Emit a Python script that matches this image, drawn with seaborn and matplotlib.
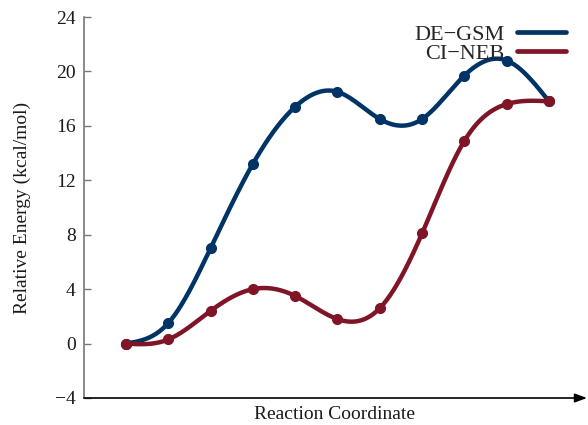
import numpy as np
import pandas as pd
import matplotlib
matplotlib.use("Agg")
import matplotlib.pyplot as plt
import seaborn as sns

# Image index along the reaction path
images = list(range(11))
de_gsm = [0.0, 1.5, 7.0, 13.2, 17.4, 18.5, 16.5, 16.5, 19.7, 20.8, 17.8]
ci_neb = [0.0, 0.3, 2.4, 4.0, 3.5, 1.8, 2.6, 8.1, 14.9, 17.6, 17.8]
series_names = ["DE\u2212GSM", "CI\u2212NEB"]
y_ticks = [-4, 0, 4, 8, 12, 16, 20, 24]

colors = {"DE\u2212GSM": "#003366", "CI\u2212NEB": "#7f1526"}


def natural_spline(x, y, n=400):
    """Natural cubic spline through (x, y), evaluated on a fine grid."""
    x = np.asarray(x, float)
    y = np.asarray(y, float)
    k = len(x)
    h = np.diff(x)
    A = np.zeros((k, k))
    b = np.zeros(k)
    A[0, 0] = A[-1, -1] = 1.0
    for i in range(1, k - 1):
        A[i, i - 1] = h[i - 1]
        A[i, i] = 2 * (h[i - 1] + h[i])
        A[i, i + 1] = h[i]
        b[i] = 3 * ((y[i + 1] - y[i]) / h[i] - (y[i] - y[i - 1]) / h[i - 1])
    c = np.linalg.solve(A, b)
    bb = (y[1:] - y[:-1]) / h - h * (2 * c[:-1] + c[1:]) / 3
    d = (c[1:] - c[:-1]) / (3 * h)
    xs = np.linspace(x[0], x[-1], n)
    idx = np.clip(np.searchsorted(x, xs, side="right") - 1, 0, k - 2)
    dx = xs - x[idx]
    ys = y[idx] + bb[idx] * dx + c[idx] * dx ** 2 + d[idx] * dx ** 3
    return xs, ys


points = pd.DataFrame({
    "image": images * 2,
    "energy": de_gsm + ci_neb,
    "method": [series_names[0]] * len(images) + [series_names[1]] * len(images),
})

curves = []
for name, vals in zip(series_names, [de_gsm, ci_neb]):
    xs, ys = natural_spline(images, vals)
    curves.append(pd.DataFrame({"image": xs, "energy": ys, "method": name}))
curves = pd.concat(curves, ignore_index=True)

sns.set_theme(style="white")
plt.rcParams["font.family"] = ["Liberation Serif", "DejaVu Serif"]

fig = plt.figure(figsize=(5.88, 4.25), dpi=100)
ax = fig.add_axes([84 / 588, 1 - 398 / 425, (585 - 84) / 588, (398 - 17) / 425])

sns.lineplot(data=curves, x="image", y="energy", hue="method",
             palette=colors, hue_order=series_names, linewidth=3.2,
             sort=False, estimator=None, ax=ax, legend=False)
for name in series_names:
    sub = points[points["method"] == name]
    ax.plot(sub["image"], sub["energy"], "o", color=colors[name],
            markersize=7, zorder=3)

ax.set_xlim(-0.99, 10.85)
ax.set_ylim(-4, 24)
ax.set_yticks(y_ticks)
ax.set_yticklabels([str(t).replace("-", "\u2212") for t in y_ticks])
ax.set_xticks([])
ax.tick_params(axis="y", direction="in", length=5, width=1, color="#777777",
               labelsize=14, labelcolor="#1a1a1a", pad=6, left=True)

for side in ["top", "right", "bottom"]:
    ax.spines[side].set_visible(False)
ax.spines["left"].set_color("#777777")
ax.spines["left"].set_linewidth(1.2)

# Reaction coordinate axis drawn as an arrow
ax.annotate("", xy=(1.004, 0), xytext=(0, 0), xycoords="axes fraction",
            textcoords="axes fraction",
            arrowprops=dict(arrowstyle="-|>,head_length=0.6,head_width=0.22",
                            color="black", lw=1.2, shrinkA=0, shrinkB=0),
            annotation_clip=False)

ax.set_xlabel("Reaction Coordinate", fontsize=14, color="#1a1a1a", labelpad=6)
ax.set_ylabel("Relative Energy (kcal/mol)", fontsize=14, color="#1a1a1a",
              labelpad=17)

handles = [plt.Line2D([], [], color=colors[n], lw=3.4) for n in series_names]
ax.legend(handles, series_names, loc="upper right", bbox_to_anchor=(0.962, 0.98),
          frameon=False, markerfirst=False, fontsize=16, handlelength=2.2,
          handletextpad=0.55, labelspacing=-0.08, borderaxespad=0,
          borderpad=0)

fig.savefig("out.png", dpi=100)
